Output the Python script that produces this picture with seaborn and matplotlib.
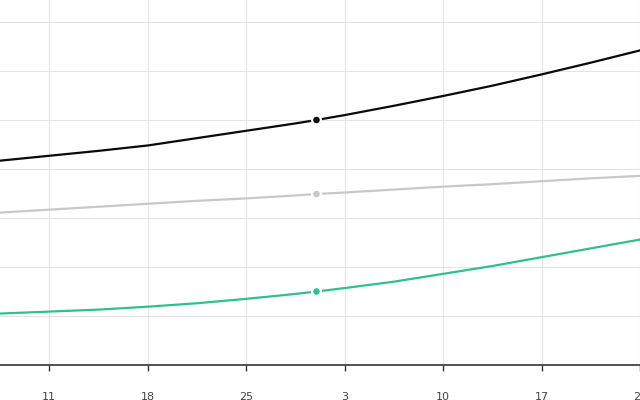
import pandas as pd
import matplotlib.pyplot as plt
import matplotlib.dates as mdates
import seaborn as sns

# values (one gridline = 1 unit)
dates = pd.to_datetime(['2024-02-07 12:00', '2024-02-11 00:00', '2024-02-14 12:00',
                        '2024-02-18 00:00', '2024-02-21 12:00', '2024-02-25 00:00',
                        '2024-02-28 12:00', '2024-03-01 00:00', '2024-03-03 00:00',
                        '2024-03-06 12:00', '2024-03-10 00:00', '2024-03-13 12:00',
                        '2024-03-17 00:00', '2024-03-20 12:00', '2024-03-24 00:00'])
black_vals = [4.17, 4.27, 4.37, 4.48, 4.63, 4.78, 4.93, 5.00,
              5.10, 5.29, 5.49, 5.70, 5.93, 6.17, 6.42]
gray_vals = [3.11, 3.17, 3.23, 3.29, 3.35, 3.40, 3.46, 3.49,
             3.52, 3.58, 3.64, 3.69, 3.75, 3.81, 3.86]
green_vals = [1.05, 1.09, 1.13, 1.19, 1.26, 1.35, 1.45, 1.50,
              1.57, 1.70, 1.86, 2.02, 2.20, 2.38, 2.56]
highlight_date = pd.Timestamp('2024-03-01')
tick_dates = pd.to_datetime(['2024-02-11', '2024-02-18', '2024-02-25', '2024-03-03',
                             '2024-03-10', '2024-03-17', '2024-03-24'])

series = {'black': black_vals, 'gray': gray_vals, 'green': green_vals}
palette = {'black': '#0a0a0a', 'gray': '#c8c8c8', 'green': '#2fc08e'}

df = pd.concat([pd.DataFrame({'date': dates, 'value': v, 'series': k})
                for k, v in series.items()], ignore_index=True)

sns.set_theme(style='white')
plt.rcParams['font.family'] = ['DejaVu Sans']

fig = plt.figure(figsize=(6.4, 4.0), dpi=100)
ax = fig.add_axes([0, 0.0875, 1, 0.9125])

sns.lineplot(data=df, x='date', y='value', hue='series', palette=palette,
             linewidth=1.6, legend=False, ax=ax)
pts = df[df['date'] == highlight_date]
sns.scatterplot(data=pts, x='date', y='value', hue='series', palette=palette,
                s=40, edgecolor='white', linewidth=1.6, legend=False, zorder=5, ax=ax)

ax.set_xlim(pd.Timestamp('2024-02-07 12:00'), pd.Timestamp('2024-03-24'))
ax.set_ylim(0, 365 / 49)
ax.set_yticks(range(1, 8))
ax.set_xticks(tick_dates)
ax.xaxis.set_major_formatter(mdates.DateFormatter('%-d'))
ax.grid(True, color='#e4e4e4', linewidth=0.8)
ax.set_axisbelow(True)
ax.tick_params(axis='y', left=False, labelleft=False)
ax.tick_params(axis='x', bottom=True, direction='out', length=4.5, width=1,
               color='#333333', labelsize=8, labelcolor='#444444', pad=15)
for side in ('top', 'left', 'right'):
    ax.spines[side].set_visible(False)
ax.spines['bottom'].set_color('#333333')
ax.spines['bottom'].set_linewidth(1.2)
ax.set_xlabel('')
ax.set_ylabel('')

fig.savefig('out.png', dpi=100)
